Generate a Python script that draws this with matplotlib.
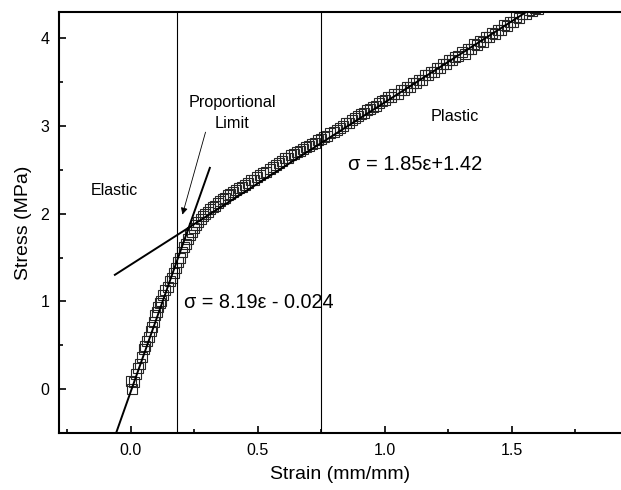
"""
Stress-strain curve with elastic / plastic linear fits
"""

import matplotlib

matplotlib.use("Agg")
import matplotlib.pyplot as plt
import numpy as np
from matplotlib.ticker import MultipleLocator

plt.rcParams["font.family"] = ["Liberation Sans", "DejaVu Sans"]

strain = [
    0.000, 0.005, 0.012, 0.020, 0.028, 0.035, 0.042, 0.050, 0.056, 0.064,
    0.072, 0.078, 0.085, 0.090, 0.096, 0.102, 0.108, 0.114, 0.120, 0.128,
    0.136, 0.146, 0.155, 0.162, 0.170, 0.178, 0.186, 0.194, 0.202, 0.210,
    0.218, 0.226, 0.234, 0.242, 0.250, 0.258, 0.266, 0.275, 0.284, 0.293,
    0.302, 0.312, 0.322, 0.332, 0.342, 0.352, 0.362, 0.372, 0.382, 0.392,
    0.402, 0.414, 0.426, 0.438, 0.450, 0.462, 0.474, 0.486, 0.498, 0.510,
    0.522, 0.534, 0.546, 0.558, 0.570, 0.582, 0.594, 0.606, 0.618, 0.630,
    0.642, 0.654, 0.666, 0.678, 0.690, 0.702, 0.714, 0.726, 0.738, 0.750,
    0.762, 0.774, 0.786, 0.798, 0.810, 0.822, 0.834, 0.846, 0.858, 0.870,
    0.882, 0.894, 0.906, 0.918, 0.930, 0.942, 0.954, 0.966, 0.978, 0.990,
    1.002, 1.014, 1.026, 1.038, 1.050, 1.062, 1.074, 1.086, 1.098, 1.110,
    1.122, 1.134, 1.146, 1.158, 1.170, 1.182, 1.194, 1.206, 1.218, 1.230,
    1.242, 1.254, 1.266, 1.278, 1.290, 1.302, 1.314, 1.326, 1.338, 1.350,
    1.362, 1.374, 1.386, 1.398, 1.410, 1.422, 1.434, 1.446, 1.458, 1.470,
    1.482, 1.494, 1.506, 1.518, 1.530, 1.542, 1.554, 1.566, 1.578, 1.590,
    1.602,
]
stress = [
    0.09, 0.00, 0.08, 0.17, 0.24, 0.29, 0.37, 0.46, 0.49, 0.55,
    0.59, 0.66, 0.71, 0.77, 0.85, 0.88, 0.94, 0.98, 1.01, 1.07,
    1.13, 1.17, 1.23, 1.27, 1.33, 1.38, 1.45, 1.50, 1.56, 1.62,
    1.66, 1.71, 1.76, 1.79, 1.84, 1.87, 1.91, 1.94, 1.97, 2.00,
    2.02, 2.05, 2.08, 2.09, 2.12, 2.14, 2.17, 2.18, 2.21, 2.22,
    2.25, 2.27, 2.29, 2.30, 2.33, 2.35, 2.38, 2.39, 2.42, 2.44,
    2.46, 2.48, 2.51, 2.53, 2.55, 2.58, 2.60, 2.63, 2.64, 2.67,
    2.68, 2.70, 2.71, 2.74, 2.76, 2.77, 2.80, 2.81, 2.84, 2.85,
    2.87, 2.89, 2.92, 2.93, 2.96, 2.98, 3.00, 3.03, 3.04, 3.07,
    3.09, 3.11, 3.14, 3.15, 3.18, 3.19, 3.22, 3.23, 3.26, 3.28,
    3.30, 3.33, 3.33, 3.37, 3.37, 3.41, 3.41, 3.45, 3.45, 3.49,
    3.49, 3.53, 3.53, 3.58, 3.58, 3.62, 3.62, 3.66, 3.66, 3.71,
    3.71, 3.75, 3.75, 3.79, 3.80, 3.84, 3.82, 3.88, 3.88, 3.93,
    3.92, 3.97, 3.96, 4.01, 4.01, 4.06, 4.05, 4.10, 4.10, 4.15,
    4.14, 4.19, 4.19, 4.24, 4.23, 4.28, 4.28, 4.32, 4.31, 4.34,
    4.33,
]

# linear fits: sigma = slope * eps + intercept
elastic_fit = (8.19, -0.024)
plastic_fit = (1.85, 1.42)
elastic_range = [-0.058, 0.311]
plastic_range = [-0.063, 1.60]

# region boundaries
boundaries = [0.181, 0.747]

fig = plt.figure(figsize=(6.21, 4.90), dpi=100)
ax = fig.add_axes([0.095, 0.1163, 0.905, 0.8592])

ax.plot(strain, stress, ls="none", marker="s", markersize=6.5,
        markerfacecolor="none", markeredgecolor="0.15", markeredgewidth=0.8,
        clip_on=True)

for (slope, icpt), rng in [(elastic_fit, elastic_range), (plastic_fit, plastic_range)]:
    xs = np.array(rng)
    ax.plot(xs, slope * xs + icpt, color="black", lw=1.4)

for b in boundaries:
    ax.axvline(b, color="black", lw=0.8)

ax.text(-0.159, 2.265, "Elastic", fontsize=11.5, ha="left", va="center")
ax.text(0.40, 3.15, "Proportional\nLimit", fontsize=11.7, ha="center",
        va="center", multialignment="center", linespacing=1.5)
ax.annotate("", xy=(0.203, 1.99), xytext=(0.294, 2.93),
            arrowprops=dict(arrowstyle="-|>", color="black", lw=0.6,
                            mutation_scale=10, shrinkA=0, shrinkB=0))
ax.text(1.276, 3.106, "Plastic", fontsize=11.7, ha="center", va="center")
ax.text(0.855, 2.557, "σ = 1.85ε+1.42", fontsize=14.5, ha="left", va="center")
ax.text(0.21, 0.985, "σ = 8.19ε - 0.024", fontsize=14.3, ha="left", va="center")

ax.set_xlim(-0.283, 1.93)
ax.set_ylim(-0.5, 4.3)

ax.xaxis.set_major_locator(MultipleLocator(0.5))
ax.xaxis.set_minor_locator(MultipleLocator(0.25))
ax.yaxis.set_major_locator(MultipleLocator(1))
ax.yaxis.set_minor_locator(MultipleLocator(0.5))
ax.xaxis.set_major_formatter(lambda v, p: f"{v:.1f}")

ax.tick_params(which="both", direction="in", top=False, right=False,
               width=1.2, labelsize=11.5)
ax.tick_params(which="major", length=5, pad=7)
ax.tick_params(which="minor", length=3)

ax.spines["right"].set_visible(False)
for s in ["left", "bottom", "top"]:
    ax.spines[s].set_linewidth(1.5)

ax.set_xlabel("Strain (mm/mm)", fontsize=14, labelpad=6)
ax.set_ylabel("Stress (MPa)", fontsize=14, labelpad=6)

fig.savefig("out.png", dpi=100)
